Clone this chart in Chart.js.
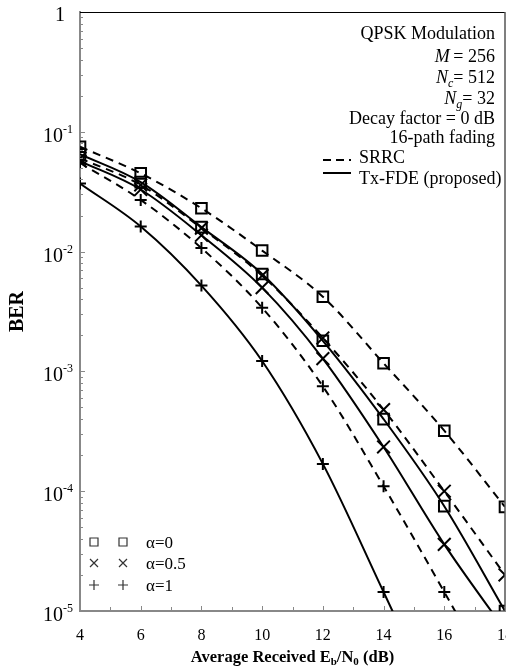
<!DOCTYPE html>
<html>
<head>
<meta charset="utf-8">
<script src="https://cdn.jsdelivr.net/npm/chart.js@4.4.1/dist/chart.umd.min.js"></script>
<style>
  html, body { margin: 0; padding: 0; background: #fff; overflow: hidden; }
  #wrap { position: relative; width: 521px; height: 668px; }
</style>
</head>
<body>
<div id="wrap"><canvas id="chart"></canvas></div>
<script>
// Eb/N0 in dB
const snr = [4, 6, 8, 10, 12, 14, 16, 18];

// BER (values below 1e-5 continue the lines past the axis)
const srrcA0  = [0.075, 0.045, 0.023, 0.0102, 0.0042, 0.00117, 0.00032, 0.000074];
const srrcA05 = [0.060, 0.036, 0.0157, 0.0063, 0.0019, 0.00048, 0.0001, 0.00002];
const srrcA1  = [0.055, 0.027, 0.0107, 0.0034, 0.00075, 0.00011, 0.0000144, 0.0000018];
const txA0    = [0.065, 0.038, 0.016, 0.0065, 0.0018, 0.0004, 0.000075, 0.00001];
const txA05   = [0.057, 0.033, 0.0137, 0.0050, 0.00128, 0.000234, 0.000036, 0.0000069];
const txA1    = [0.037, 0.0162, 0.0052, 0.00122, 0.000169, 0.0000144, 0.0000012, null];

const yDecades = [0, -1, -2, -3, -4, -5];
const infoLines = ['QPSK Modulation', 'M = 256', 'Nc = 512', 'Ng = 32', 'Decay factor = 0 dB', '16-path fading'];
const alphaLabels = ['\u03b1=0', '\u03b1=0.5', '\u03b1=1'];

const SERIF = '"Liberation Serif", "Times New Roman", serif';

function pts(arr) {
  return snr.map((x, i) => ({ x: x, y: arr[i] }));
}

function series(label, arr, dashed, style) {
  const r = style === 'rect' ? 7.5 : (style === 'crossRot' ? 9 : 6);
  return {
    label: label,
    data: pts(arr),
    borderColor: '#000',
    borderWidth: 2,
    borderDash: dashed ? [8, 6] : [],
    pointStyle: style,
    pointRadius: r,
    pointBorderWidth: 2,
    pointBorderColor: '#000',
    pointBackgroundColor: 'rgba(0,0,0,0)',
    cubicInterpolationMode: 'monotone',
    fill: false
  };
}

// draws pieces of text with their own fonts/offsets, anchored at x
function runs(ctx, parts, x, y, align) {
  let total = 0;
  parts.forEach(p => { ctx.font = p.f; total += ctx.measureText(p.t).width; });
  let cx = align === 'right' ? x - total : (align === 'center' ? x - total / 2 : x);
  ctx.textAlign = 'left';
  ctx.textBaseline = 'alphabetic';
  parts.forEach(p => {
    ctx.font = p.f;
    ctx.fillText(p.t, cx, y + (p.dy || 0));
    cx += ctx.measureText(p.t).width;
  });
}

const decor = {
  id: 'decor',
  afterDraw(chart) {
    const ctx = chart.ctx;
    const a = chart.chartArea;
    const xs = chart.scales.x, ys = chart.scales.y;
    ctx.save();

    // top and right frame
    ctx.strokeStyle = '#000';
    ctx.lineWidth = 1;
    ctx.beginPath();
    ctx.moveTo(a.left, a.top + 0.5);
    ctx.lineTo(a.right, a.top + 0.5);
    ctx.stroke();
    ctx.strokeStyle = '#555';
    ctx.lineWidth = 1.5;
    ctx.beginPath();
    ctx.moveTo(a.right, a.top);
    ctx.lineTo(a.right, a.bottom);
    ctx.stroke();

    // inward ticks
    ctx.strokeStyle = '#888';
    ctx.lineWidth = 1;
    for (let v = xs.min; v <= xs.max; v++) {
      const px = Math.round(xs.getPixelForValue(v)) + 0.5;
      const len = v % 2 === 0 ? 5 : 4;
      ctx.beginPath();
      ctx.moveTo(px, a.bottom);
      ctx.lineTo(px, a.bottom - len);
      ctx.stroke();
    }
    yDecades.forEach(k => {
      if (k === 0) return;
      for (let m = 1; m < 10; m++) {
        const py = Math.round(ys.getPixelForValue(m * Math.pow(10, k))) + 0.5;
        ctx.beginPath();
        ctx.moveTo(a.left, py);
        ctx.lineTo(a.left + (m === 1 ? 5 : 3), py);
        ctx.stroke();
      }
    });

    // y tick labels with superscripts
    ctx.fillStyle = '#000';
    yDecades.forEach(k => {
      const py = ys.getPixelForValue(Math.pow(10, k));
      if (k === 0) {
        runs(ctx, [{ t: '1', f: '20px ' + SERIF }], 65, py + 9, 'right');
      } else {
        runs(ctx, [{ t: '10', f: '20px ' + SERIF }], 63, py + 10, 'right');
        runs(ctx, [{ t: '-' + (-k), f: '12px ' + SERIF }], 63, py + 1, 'left');
      }
    });

    // x axis title
    const b = 'bold 16.5px ' + SERIF, bs = 'bold 11px ' + SERIF;
    runs(ctx, [
      { t: 'Average Received E', f: b },
      { t: 'b', f: bs, dy: 3 },
      { t: '/N', f: b },
      { t: '0', f: bs, dy: 3 },
      { t: ' (dB)', f: b }
    ], (a.left + a.right) / 2, 662, 'center');

    // parameter block
    const f = '18px ' + SERIF, fi = 'italic 18px ' + SERIF, fs = 'italic 12px ' + SERIF;
    const rx = 495;
    runs(ctx, [{ t: infoLines[0], f: f }], rx, 39, 'right');
    runs(ctx, [{ t: 'M', f: fi }, { t: '\u2009= 256', f: f }], rx, 62, 'right');
    runs(ctx, [{ t: 'N', f: fi }, { t: 'c', f: fs, dy: 4 }, { t: '= 512', f: f }], rx, 83, 'right');
    runs(ctx, [{ t: 'N', f: fi }, { t: 'g', f: fs, dy: 4 }, { t: '= 32', f: f }], rx, 104, 'right');
    runs(ctx, [{ t: infoLines[4], f: f }], rx, 124, 'right');
    runs(ctx, [{ t: infoLines[5], f: f }], rx, 143, 'right');

    // line-style legend
    ctx.strokeStyle = '#000';
    ctx.lineWidth = 2;
    ctx.setLineDash([8, 5]);
    ctx.beginPath(); ctx.moveTo(323, 160); ctx.lineTo(351, 160); ctx.stroke();
    ctx.setLineDash([]);
    ctx.beginPath(); ctx.moveTo(323, 173); ctx.lineTo(351, 173); ctx.stroke();
    runs(ctx, [{ t: 'SRRC', f: f }], 359, 163, 'left');
    runs(ctx, [{ t: 'Tx-FDE (proposed)', f: f }], 359, 184, 'left');

    // marker legend
    const lf = '17px ' + SERIF;
    const rows = [542, 563, 585];
    ctx.strokeStyle = '#333';
    ctx.lineWidth = 1.2;
    rows.forEach((ry, i) => {
      [94, 123].forEach(cx => {
        ctx.beginPath();
        if (i === 0) {
          ctx.rect(cx - 4, ry - 4, 8, 8);
        } else if (i === 1) {
          ctx.moveTo(cx - 4, ry - 4); ctx.lineTo(cx + 4, ry + 4);
          ctx.moveTo(cx + 4, ry - 4); ctx.lineTo(cx - 4, ry + 4);
        } else {
          ctx.moveTo(cx - 5, ry); ctx.lineTo(cx + 5, ry);
          ctx.moveTo(cx, ry - 5); ctx.lineTo(cx, ry + 5);
        }
        ctx.stroke();
      });
      runs(ctx, [{ t: alphaLabels[i], f: lf }], 146, ry + 6, 'left');
    });

    ctx.restore();
  }
};

new Chart(document.getElementById('chart'), {
  type: 'line',
  data: {
    datasets: [
      series('SRRC a=0', srrcA0, true, 'rect'),
      series('SRRC a=0.5', srrcA05, true, 'crossRot'),
      series('SRRC a=1', srrcA1, true, 'cross'),
      series('Tx-FDE a=0', txA0, false, 'rect'),
      series('Tx-FDE a=0.5', txA05, false, 'crossRot'),
      series('Tx-FDE a=1', txA1, false, 'cross')
    ]
  },
  options: {
    responsive: true,
    maintainAspectRatio: false,
    animation: false,
    devicePixelRatio: 1,
    layout: { padding: { top: 12, right: 16, left: 0, bottom: 0 } },
    plugins: { legend: { display: false }, tooltip: { enabled: false } },
    scales: {
      x: {
        type: 'linear',
        min: 4,
        max: 18,
        grid: { display: false, drawTicks: false },
        border: { display: true, color: '#888', width: 2 },
        ticks: { stepSize: 2, padding: 15, color: '#000', font: { family: SERIF, size: 16 } },
        afterFit(scale) {
          scale.height = 57;
          scale.paddingLeft = 0;
          scale.paddingRight = 0;
        }
      },
      y: {
        type: 'logarithmic',
        min: 1e-5,
        max: 1,
        grid: { display: false, drawTicks: false },
        border: { display: true, color: '#888', width: 2 },
        ticks: { display: false },
        title: {
          display: true,
          text: 'BER',
          color: '#000',
          padding: { top: 6, bottom: 0 },
          font: { family: SERIF, size: 20, weight: 'bold' }
        },
        afterFit(scale) { scale.width = 80; }
      }
    }
  },
  plugins: [decor]
});
</script>
</body>
</html>
